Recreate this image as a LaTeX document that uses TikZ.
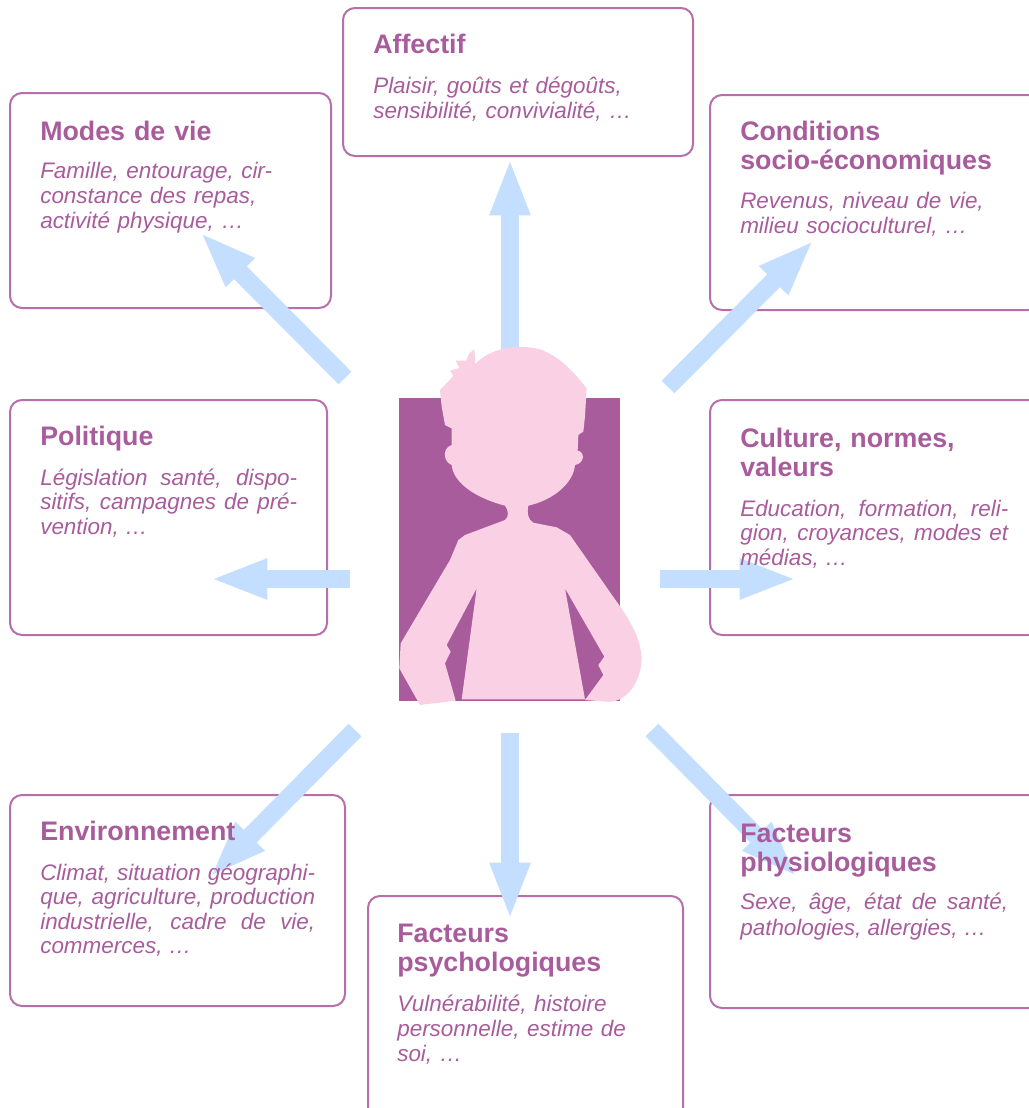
\documentclass[tikz,border=0pt]{standalone}
\usepackage{fontspec}
\setmainfont{Liberation Sans}
\usetikzlibrary{positioning,arrows.meta}
\definecolor{plum}{HTML}{A85C9C}
\definecolor{rim}{HTML}{B66FAA}
\definecolor{skin}{HTML}{F9D0E4}
\definecolor{sky}{HTML}{C4DEFF}
\tikzstyle{block} = [rectangle, draw=rim, line width=1.5pt, rounded corners=9pt,
    anchor=north west, outer sep=0pt]
\tikzstyle{line} = [draw=sky, line width=13.5pt, -{Triangle[length=43pt,width=27.5pt]}]
\tikzstyle{heading} = [anchor=base west, inner sep=0pt, text=plum, text width=240pt,
    align=left, font=\fontsize{20.1}{22.3}\selectfont\bfseries]
\tikzstyle{blurb} = [anchor=base west, inner sep=0pt, text=plum, text width=205pt,
    align=left, font=\fontsize{16.85}{19.1}\selectfont\itshape]
\tikzstyle{tight} = [align=justify, font=\fontsize{16.85}{18.4}\selectfont\itshape]

\begin{document}
\begin{tikzpicture}[x=.75pt, y=-.75pt]
    \useasboundingbox (0,0) rectangle (1029,1108);
    % boxes first, the arrows run over their edges
    \node [block, minimum width=350*.75pt, minimum height=148*.75pt] (affectif) at (343,8) {};
    \node [block, minimum width=321*.75pt, minimum height=215*.75pt] (modes) at (10,93) {};
    \node [block, minimum width=330*.75pt, minimum height=215*.75pt] (conditions) at (710,95) {};
    \node [block, minimum width=317*.75pt, minimum height=235*.75pt] (politique) at (10,400) {};
    \node [block, minimum width=330*.75pt, minimum height=235*.75pt] (culture) at (710,400) {};
    \node [block, minimum width=335*.75pt, minimum height=211*.75pt] (environnement) at (10,795) {};
    \node [block, minimum width=315*.75pt, minimum height=225*.75pt] (psycho) at (368,896) {};
    \node [block, minimum width=330*.75pt, minimum height=213*.75pt] (physio) at (710,795) {};

    \node [rectangle, fill=plum, anchor=north west, minimum width=221*.75pt,
        minimum height=303*.75pt] (person) at (399,398) {};

    \coordinate (upfrom) at (510,350);
    \coordinate (upto) at (510,158);
    \coordinate (modesfrom) at (345,378);
    \coordinate (modesto) at (200,232);
    \coordinate (condfrom) at (668,387);
    \coordinate (condto) at (814,240);
    \coordinate (polfrom) at (350,579);
    \coordinate (polto) at (210,579);
    \coordinate (culfrom) at (660,579);
    \coordinate (culto) at (797,579);
    \coordinate (envfrom) at (355,730);
    \coordinate (envto) at (210,877);
    \coordinate (psyfrom) at (510,733);
    \coordinate (psyto) at (510,920);
    \coordinate (phyfrom) at (652,730);
    \coordinate (phyto) at (797,877);
    \path [line] (upfrom) -- (upto);
    \path [line] (modesfrom) -- (modesto);
    \path [line] (condfrom) -- (condto);
    \path [line] (polfrom) -- (polto);
    \path [line] (culfrom) -- (culto);
    \path [line] (envfrom) -- (envto);
    \path [line] (psyfrom) -- (psyto);
    \path [line] (phyfrom) -- (phyto);

    % silhouette, traced at a third of a pixel
    \begin{scope}[shift={(390,340)}, x=.25pt, y=-.25pt]
    \fill [skin] (150,150) -- (190,108) -- (180,92) -- (208,84) -- (197,62) -- (228,62)
        -- (238,40) -- (253,28) -- (256,72)
        .. controls (300,25) and (380,10) .. (450,28)
        .. controls (510,50) and (550,95) .. (590,145)
        -- (585,230) -- (580,275) -- (565,285) -- (563,332)
        .. controls (585,335) and (585,370) .. (555,375)
        .. controls (550,430) and (490,480) .. (415,497)
        .. controls (410,520) and (415,540) .. (430,548)
        -- (500,562) -- (540,585) -- (680,785)
        .. controls (720,840) and (755,900) .. (755,960)
        .. controls (750,1040) and (700,1090) .. (650,1085)
        -- (585,1080) -- (640,1005) -- (625,975) -- (643,950) -- (525,745)
        -- (585,1078) -- (215,1078) -- (260,745) -- (170,915) -- (182,935)
        -- (165,970) -- (197,1082) -- (90,1095) -- (28,985) -- (32,910)
        -- (180,660) -- (205,600) -- (225,585) -- (345,540)
        .. controls (358,530) and (355,510) .. (345,497)
        .. controls (260,475) and (190,430) .. (185,375)
        .. controls (160,365) and (155,325) .. (185,315)
        -- (185,265) -- (165,255) -- (155,200) -- cycle;
    \end{scope}

    % texts on top of the arrows
    \node [heading] (affectifhead) at (373,53) {Affectif};
    \node [blurb] (affectiftext) at (373,93) {Plaisir, goûts et dégoûts,\\sensibilité, convivialité, …};
    \node [heading] (modeshead) at (40,140) {Modes de vie};
    \node [blurb] (modestext) at (40,178) {Famille, entourage, cir-\\constance des repas,\\activité physique, …};
    \node [heading] (conditionshead) at (740,140) {Conditions\\socio-économiques};
    \node [blurb] (conditionstext) at (740,208) {Revenus, niveau de vie,\\milieu socioculturel, …};
    \node [heading] (politiquehead) at (40,445) {Politique};
    \node [blurb, text width=257*.75pt, tight] (politiquetext) at (40,485) {Législation santé, dispo-\linebreak sitifs, campagnes de pré-\linebreak vention, …};
    \node [heading] (culturehead) at (740,447) {Culture, normes,\\valeurs};
    \node [blurb, text width=268*.75pt, tight] (culturetext) at (740,516) {Education, formation, reli-\linebreak gion, croyances, modes et\linebreak médias, …};
    \node [heading] (environnementhead) at (40,840) {Environnement};
    \node [blurb, text width=275*.75pt, tight] (environnementtext) at (40,880) {Climat, situation géographi-\linebreak que, agriculture, production\linebreak industrielle, cadre de vie,\linebreak commerces, …};
    \node [heading] (psychohead) at (397,942) {Facteurs\\psychologiques};
    \node [blurb] (psychotext) at (397,1011) {Vulnérabilité, histoire\\personnelle, estime de\\soi, …};
    \node [heading] (physiohead) at (740,842) {Facteurs\\physiologiques};
    \node [blurb, text width=268*.75pt, tight, font=\fontsize{16.85}{20.2}\selectfont\itshape] (physiotext) at (740,909) {Sexe, âge, état de santé,\linebreak pathologies, allergies, …};
\end{tikzpicture}
\end{document}
